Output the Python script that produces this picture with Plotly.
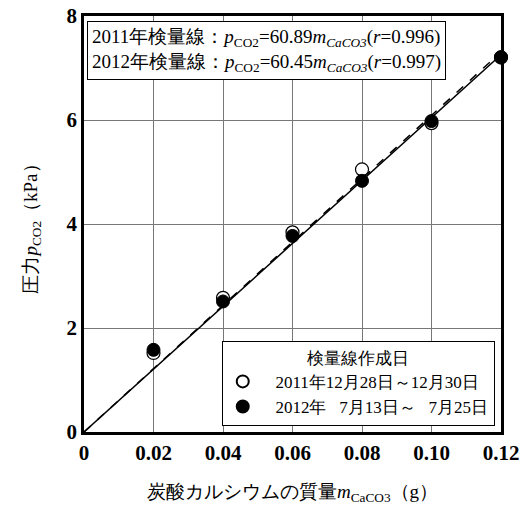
import plotly.graph_objects as go

mass = [0.02, 0.04, 0.06, 0.08, 0.10, 0.12]
p2011 = [1.52, 2.58, 3.84, 5.05, 5.94, 7.20]
p2012 = [1.58, 2.51, 3.77, 4.83, 5.98, 7.21]
slope2011 = 60.89
slope2012 = 60.45
line_x = [0, 0.12]
x_ticks = [0, 0.02, 0.04, 0.06, 0.08, 0.10, 0.12]
x_tick_text = ["0", "0.02", "0.04", "0.06", "0.08", "0.10", "0.12"]
y_ticks = [0, 2, 4, 6, 8]
y_tick_text = ["0", "2", "4", "6", "8"]

SERIF = "Liberation Serif"

fig = go.Figure()
fig.add_trace(go.Scatter(x=line_x, y=[slope2011 * v for v in line_x], mode="lines",
                         line=dict(color="black", width=1.5, dash="dash"), showlegend=False))
fig.add_trace(go.Scatter(x=line_x, y=[slope2012 * v for v in line_x], mode="lines",
                         line=dict(color="black", width=1.5), showlegend=False))
fig.add_trace(go.Scatter(x=mass, y=p2011, mode="markers",
                         name="\u2002 2011年12月28日～12月30日",
                         cliponaxis=False,
                         marker=dict(symbol="circle", size=13, color="white",
                                     line=dict(color="black", width=1.2))))
fig.add_trace(go.Scatter(x=mass, y=p2012, mode="markers",
                         name="\u2002 2012年\u2002 7月13日～\u2002 7月25日",
                         cliponaxis=False,
                         marker=dict(symbol="circle", size=13, color="black",
                                     line=dict(color="black", width=1))))

# the page body has an 8px default margin: shrink the figure by 8px and move the left/top margins
fig.update_layout(
    width=522, height=498,
    margin=dict(l=76, r=29, t=8, b=74),
    plot_bgcolor="white", paper_bgcolor="white",
    font=dict(family=SERIF, color="black", size=16),
    xaxis=dict(range=[0, 0.12], tickvals=x_ticks, ticktext=["<b>%s</b>" % t for t in x_tick_text],
               showgrid=True, gridcolor="#777", gridwidth=1,
               showline=True, linecolor="black", linewidth=2.5, mirror=True,
               ticks="", zeroline=False, automargin=False, ticklabeloverflow="allow",
               tickfont=dict(family=SERIF, size=21, color="black"),
               title=dict(text="炭酸カルシウムの質量<i>m</i><sub>CaCO3</sub>（g）",
                          font=dict(family=SERIF, size=19, color="black"), standoff=21)),
    yaxis=dict(range=[0, 8], tickvals=y_ticks, ticktext=["<b>%s</b>" % t for t in y_tick_text],
               showgrid=True, gridcolor="#777", gridwidth=1,
               showline=True, linecolor="black", linewidth=2.5, mirror=True,
               ticks="", zeroline=False, automargin=False, ticklabeloverflow="allow",
               tickfont=dict(family=SERIF, size=21, color="black"),
               title=dict(text="圧力<i>p</i><sub>CO2</sub>（kPa）",
                          font=dict(family=SERIF, size=19, color="black"), standoff=24)),
    legend=dict(x=0.985, y=0.015, xanchor="right", yanchor="bottom",
                bgcolor="white", bordercolor="black", borderwidth=1,
                font=dict(family=SERIF, size=17, color="black"),
                title=dict(text="検量線作成日", side="top center",
                           font=dict(family=SERIF, size=17, color="black")),
                tracegroupgap=0, itemsizing="constant", itemwidth=30),
)

fig.add_annotation(
    xref="paper", yref="paper", x=0.008, y=0.988, xanchor="left", yanchor="top",
    align="left", showarrow=False, bgcolor="white", bordercolor="black", borderwidth=1,
    borderpad=4,
    text=("2011年検量線：<i>p</i><sub>CO2</sub>=60.89<i>m<sub>CaCO3</sub></i>(<i>r</i>=0.996)<br>"
          "2012年検量線：<i>p</i><sub>CO2</sub>=60.45<i>m<sub>CaCO3</sub></i>(<i>r</i>=0.997)"),
    font=dict(family=SERIF, size=19, color="black"),
)

fig.write_html("out.html")
